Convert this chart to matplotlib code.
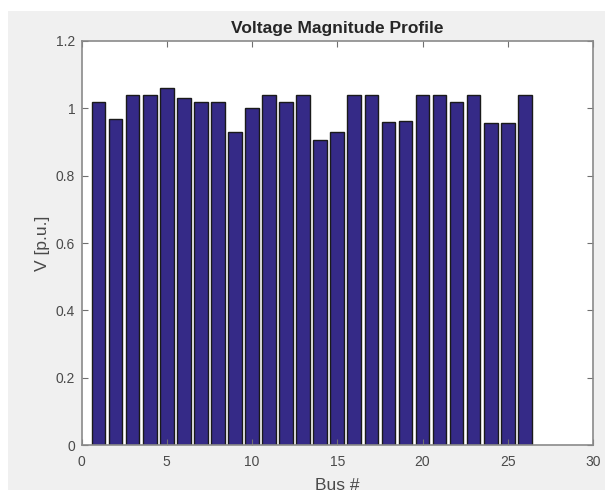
import matplotlib.pyplot as plt
import matplotlib.patches as mpatches
import numpy as np

plt.rcParams['font.family'] = ['Liberation Sans', 'DejaVu Sans']

# 母线电压幅值 (p.u.)
bus_ids = list(range(1, 27))
voltages = [1.02, 0.967, 1.04, 1.04, 1.06, 1.03, 1.02, 1.02, 0.93, 1.00,
            1.04, 1.02, 1.04, 0.906, 0.93, 1.04, 1.04, 0.96, 0.963, 1.04,
            1.04, 1.02, 1.04, 0.955, 0.957, 1.04]
x_ticks = [0, 5, 10, 15, 20, 25, 30]
y_ticks = [0, 0.2, 0.4, 0.6, 0.8, 1.0, 1.2]
y_ticklabels = ['0', '0.2', '0.4', '0.6', '0.8', '1', '1.2']

fig = plt.figure(figsize=(6.16, 4.9), dpi=100)
fig.patch.set_facecolor('white')
# 灰色背景区域 (类似 MATLAB 图窗)
fig.patches.append(mpatches.Rectangle((8 / 616, 0), 597 / 616, 479 / 490,
                                      transform=fig.transFigure,
                                      facecolor='#f0f0f0', edgecolor='none',
                                      zorder=-10))

ax = fig.add_axes([81.5 / 616, 1 - 445 / 490, (593 - 81.5) / 616, (445 - 41) / 490])
ax.set_facecolor('white')
ax.bar(bus_ids, voltages, width=0.8, color='#352a87', edgecolor='#1a1a1a', linewidth=1.0)

ax.set_xlim(0, 30)
ax.set_ylim(0, 1.2)
ax.set_xticks(x_ticks)
ax.set_yticks(y_ticks)
ax.set_yticklabels(y_ticklabels)
ax.tick_params(direction='in', length=4, width=0.8, colors='#707070',
               labelcolor='#4a4a4a', labelsize=10, top=True, right=True)
ax.tick_params(axis='x', pad=7)
ax.tick_params(axis='y', pad=4.5)
for s in ax.spines.values():
    s.set_color('#8a8a8a')
    s.set_linewidth(1.2)

ax.set_title('Voltage Magnitude Profile', fontsize=12.5, fontweight='bold', color='#262626', pad=6)
ax.set_xlabel('Bus #', fontsize=12.5, color='#4a4a4a', labelpad=7)
ax.set_ylabel('V [p.u.]', fontsize=12.5, color='#4a4a4a', labelpad=4)

plt.savefig('out.png', dpi=100)
